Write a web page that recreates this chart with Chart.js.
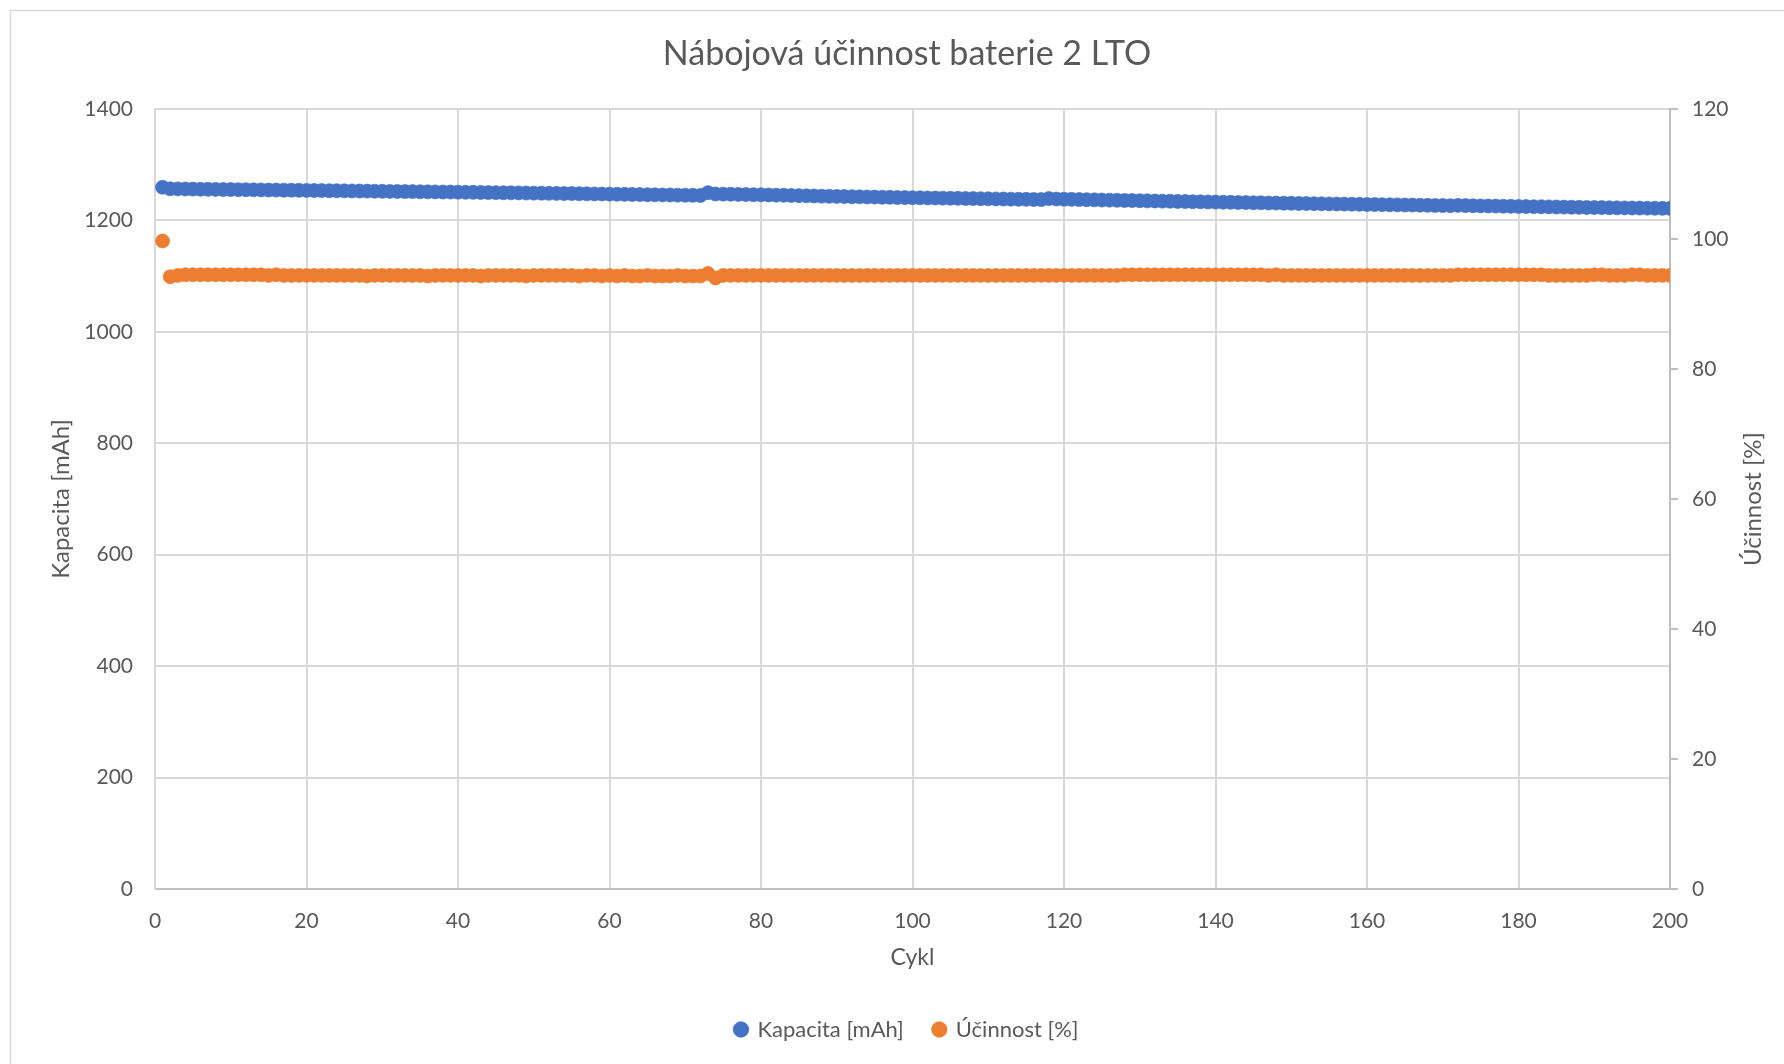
<!DOCTYPE html>
<html>
<head>
<meta charset="utf-8">
<title>Nábojová účinnost baterie 2 LTO</title>
<script src="https://cdn.jsdelivr.net/npm/chart.js@4.4.1/dist/chart.umd.min.js"></script>
<style>
  html, body { margin: 0; padding: 0; background: #ffffff; }
  #wrap { width: 1784px; height: 1064px; position: relative; }
</style>
</head>
<body>
<div id="wrap"><canvas id="chart" width="1784" height="1064"></canvas></div>
<script>
// cykly (osa X)
const cycles = [
  1, 2, 3, 4, 5, 6, 7, 8, 9, 10, 11, 12, 13, 14, 15, 16, 17, 18, 19, 20,
  21, 22, 23, 24, 25, 26, 27, 28, 29, 30, 31, 32, 33, 34, 35, 36, 37, 38, 39, 40,
  41, 42, 43, 44, 45, 46, 47, 48, 49, 50, 51, 52, 53, 54, 55, 56, 57, 58, 59, 60,
  61, 62, 63, 64, 65, 66, 67, 68, 69, 70, 71, 72, 73, 74, 75, 76, 77, 78, 79, 80,
  81, 82, 83, 84, 85, 86, 87, 88, 89, 90, 91, 92, 93, 94, 95, 96, 97, 98, 99, 100,
  101, 102, 103, 104, 105, 106, 107, 108, 109, 110, 111, 112, 113, 114, 115, 116, 117, 118, 119, 120,
  121, 122, 123, 124, 125, 126, 127, 128, 129, 130, 131, 132, 133, 134, 135, 136, 137, 138, 139, 140,
  141, 142, 143, 144, 145, 146, 147, 148, 149, 150, 151, 152, 153, 154, 155, 156, 157, 158, 159, 160,
  161, 162, 163, 164, 165, 166, 167, 168, 169, 170, 171, 172, 173, 174, 175, 176, 177, 178, 179, 180,
  181, 182, 183, 184, 185, 186, 187, 188, 189, 190, 191, 192, 193, 194, 195, 196, 197, 198, 199, 200
];

// Kapacita [mAh]
const kapacita = [
  1259.5, 1256.8, 1256.6, 1256.4, 1256.2, 1256.0, 1255.9, 1255.7, 1255.5, 1255.4,
  1255.2, 1255.1, 1254.9, 1254.8, 1254.6, 1254.5, 1254.3, 1254.2, 1254.0, 1253.9,
  1253.7, 1253.6, 1253.4, 1253.3, 1253.1, 1252.9, 1252.8, 1252.6, 1252.5, 1252.3,
  1252.1, 1252.0, 1251.8, 1251.7, 1251.5, 1251.3, 1251.2, 1251.0, 1250.9, 1250.7,
  1250.5, 1250.4, 1250.2, 1250.0, 1249.9, 1249.7, 1249.5, 1249.4, 1249.2, 1249.0,
  1248.9, 1248.7, 1248.5, 1248.3, 1248.2, 1248.0, 1247.8, 1247.6, 1247.4, 1247.2,
  1247.0, 1246.8, 1246.6, 1246.4, 1246.2, 1246.0, 1245.8, 1245.6, 1245.4, 1245.2,
  1245.0, 1244.8, 1249.8, 1247.4, 1247.2, 1247.0, 1246.7, 1246.5, 1246.2, 1246.0,
  1245.7, 1245.4, 1245.1, 1244.8, 1244.5, 1244.2, 1243.9, 1243.6, 1243.3, 1243.1,
  1242.8, 1242.6, 1242.3, 1242.1, 1241.9, 1241.6, 1241.4, 1241.2, 1241.0, 1240.8,
  1240.6, 1240.4, 1240.2, 1240.0, 1239.8, 1239.6, 1239.4, 1239.2, 1239.0, 1238.8,
  1238.6, 1238.4, 1238.2, 1238.0, 1237.8, 1237.6, 1237.4, 1239.2, 1238.4, 1238.1,
  1237.8, 1237.5, 1237.2, 1236.9, 1236.6, 1236.4, 1236.1, 1235.9, 1235.6, 1235.4,
  1235.1, 1234.9, 1234.6, 1234.4, 1234.1, 1233.9, 1233.6, 1233.4, 1233.2, 1232.9,
  1232.7, 1232.5, 1232.2, 1232.0, 1231.8, 1231.6, 1231.3, 1231.1, 1230.9, 1230.7,
  1230.5, 1230.3, 1230.1, 1229.9, 1229.7, 1229.5, 1229.3, 1229.1, 1228.9, 1228.7,
  1228.5, 1228.3, 1228.1, 1227.9, 1227.7, 1227.5, 1227.3, 1227.1, 1226.9, 1226.7,
  1226.5, 1227.0, 1226.6, 1226.3, 1226.1, 1225.9, 1225.7, 1225.5, 1225.3, 1225.1,
  1224.9, 1224.7, 1224.5, 1224.3, 1224.1, 1223.9, 1223.7, 1223.5, 1223.3, 1223.2,
  1223.0, 1222.8, 1222.6, 1222.5, 1222.3, 1222.2, 1222.0, 1221.9, 1221.7, 1221.6
];

// Účinnost [%]
const ucinnost = [
  99.7, 94.2, 94.4, 94.5, 94.5, 94.5, 94.5, 94.5, 94.5, 94.5,
  94.5, 94.5, 94.5, 94.5, 94.4, 94.5, 94.4, 94.4, 94.4, 94.4,
  94.4, 94.4, 94.4, 94.4, 94.4, 94.4, 94.4, 94.3, 94.4, 94.4,
  94.4, 94.4, 94.4, 94.4, 94.4, 94.3, 94.4, 94.4, 94.4, 94.4,
  94.4, 94.4, 94.3, 94.4, 94.4, 94.4, 94.4, 94.4, 94.3, 94.4,
  94.4, 94.4, 94.4, 94.4, 94.4, 94.3, 94.4, 94.4, 94.3, 94.4,
  94.3, 94.4, 94.3, 94.3, 94.4, 94.3, 94.3, 94.3, 94.4, 94.3,
  94.3, 94.3, 94.7, 94.0, 94.4, 94.4, 94.4, 94.4, 94.4, 94.4,
  94.4, 94.4, 94.4, 94.4, 94.4, 94.4, 94.4, 94.4, 94.4, 94.4,
  94.4, 94.4, 94.4, 94.4, 94.4, 94.4, 94.4, 94.4, 94.4, 94.4,
  94.4, 94.4, 94.4, 94.4, 94.4, 94.4, 94.4, 94.4, 94.4, 94.4,
  94.4, 94.4, 94.4, 94.4, 94.4, 94.4, 94.4, 94.4, 94.4, 94.4,
  94.4, 94.4, 94.4, 94.4, 94.4, 94.4, 94.4, 94.5, 94.5, 94.5,
  94.5, 94.5, 94.5, 94.5, 94.5, 94.5, 94.5, 94.5, 94.5, 94.5,
  94.5, 94.5, 94.5, 94.5, 94.5, 94.5, 94.4, 94.5, 94.4, 94.4,
  94.4, 94.4, 94.4, 94.4, 94.4, 94.4, 94.4, 94.4, 94.4, 94.4,
  94.4, 94.4, 94.4, 94.4, 94.4, 94.4, 94.4, 94.4, 94.4, 94.4,
  94.4, 94.5, 94.5, 94.5, 94.5, 94.5, 94.5, 94.5, 94.5, 94.5,
  94.5, 94.5, 94.5, 94.4, 94.4, 94.4, 94.4, 94.4, 94.4, 94.5,
  94.5, 94.4, 94.4, 94.4, 94.5, 94.5, 94.4, 94.4, 94.4, 94.4
];

const textColor = '#595959';
const gridColor = '#D9D9D9';
const axisColor = '#BFBFBF';
const blue = '#4472C4';
const orange = '#ED7D31';

// ramecek grafu + nazev prave osy (v Excelu cteny zdola nahoru)
const chartFrame = {
    id: 'chartFrame',
    beforeDraw(chart) {
        const c = chart.ctx;
        c.save();
        c.fillStyle = '#ffffff';
        c.fillRect(0, 0, chart.width, chart.height);
        c.strokeStyle = gridColor;
        c.lineWidth = 1.5;
        c.strokeRect(10.5, 10.5, chart.width + 50, chart.height + 50);
        c.restore();
    },
    afterDraw(chart) {
        const c = chart.ctx;
        const area = chart.chartArea;
        c.save();
        c.translate(1753, (area.top + area.bottom) / 2);
        c.rotate(-Math.PI / 2);
        c.textAlign = 'center';
        c.textBaseline = 'middle';
        c.fillStyle = textColor;
        c.font = '24px Lato';
        c.fillText('Účinnost [%]', 0, 0);
        c.restore();
    }
};

const plainTick = (v) => String(v);

function draw() {
    Chart.defaults.font.family = 'Lato';
    Chart.defaults.color = textColor;

    new Chart(document.getElementById('chart'), {
        type: 'scatter',
        data: {
            datasets: [
                {
                    label: 'Kapacita [mAh]',
                    data: cycles.map((c, i) => ({ x: c, y: kapacita[i] })),
                    yAxisID: 'y',
                    backgroundColor: blue,
                    borderColor: 'rgba(68, 114, 196, 0.7)',
                    borderWidth: 1,
                    pointRadius: 7
                },
                {
                    label: 'Účinnost [%]',
                    data: cycles.map((c, i) => ({ x: c, y: ucinnost[i] })),
                    yAxisID: 'y1',
                    backgroundColor: orange,
                    borderColor: 'rgba(237, 125, 49, 0.7)',
                    borderWidth: 1,
                    pointRadius: 7
                }
            ]
        },
        options: {
            responsive: false,
            animation: false,
            layout: { padding: { left: 30, right: 0, top: 0, bottom: 13.5 } },
            plugins: {
                title: {
                    display: true,
                    text: 'Nábojová účinnost baterie 2 LTO',
                    color: textColor,
                    font: { size: 34, weight: 'normal' },
                    padding: { top: 33.6, bottom: 34.6 }
                },
                legend: {
                    position: 'bottom',
                    labels: {
                        usePointStyle: true,
                        pointStyle: 'circle',
                        boxWidth: 11,
                        boxHeight: 11,
                        padding: 30,
                        color: textColor,
                        font: { size: 22 }
                    }
                },
                tooltip: { enabled: false }
            },
            scales: {
                x: {
                    type: 'linear',
                    min: 0,
                    max: 200,
                    ticks: { stepSize: 20, padding: 19.4, font: { size: 21 }, color: textColor, callback: plainTick },
                    grid: { color: gridColor, lineWidth: 2, drawTicks: false },
                    border: { color: axisColor, width: 2 },
                    title: { display: true, text: 'Cykl', color: textColor, font: { size: 23 }, padding: { top: 0, bottom: 16.7 } },
                    afterFit: (s) => { s.height = 99.5; }
                },
                y: {
                    position: 'left',
                    min: 0,
                    max: 1400,
                    ticks: { stepSize: 200, padding: 22, font: { size: 21 }, color: textColor, callback: plainTick },
                    grid: { color: gridColor, lineWidth: 2, drawTicks: false },
                    border: { color: gridColor, width: 2 },
                    title: { display: true, text: 'Kapacita [mAh]', color: textColor, font: { size: 24 }, padding: { top: 16.6, bottom: 0 } },
                    afterFit: (s) => { s.width = 125; }
                },
                y1: {
                    position: 'right',
                    min: 0,
                    max: 120,
                    ticks: { stepSize: 20, padding: 14, font: { size: 21 }, color: textColor, callback: plainTick },
                    grid: { drawOnChartArea: false, color: axisColor, lineWidth: 2, tickLength: 8 },
                    border: { color: axisColor, width: 2 },
                    afterFit: (s) => { s.width = 114; }
                }
            }
        },
        plugins: [chartFrame]
    });
}

if (document.fonts && document.fonts.load) {
    Promise.all([document.fonts.load('21px Lato'), document.fonts.load('34px Lato')]).then(draw, draw);
} else {
    draw();
}
</script>
</body>
</html>
